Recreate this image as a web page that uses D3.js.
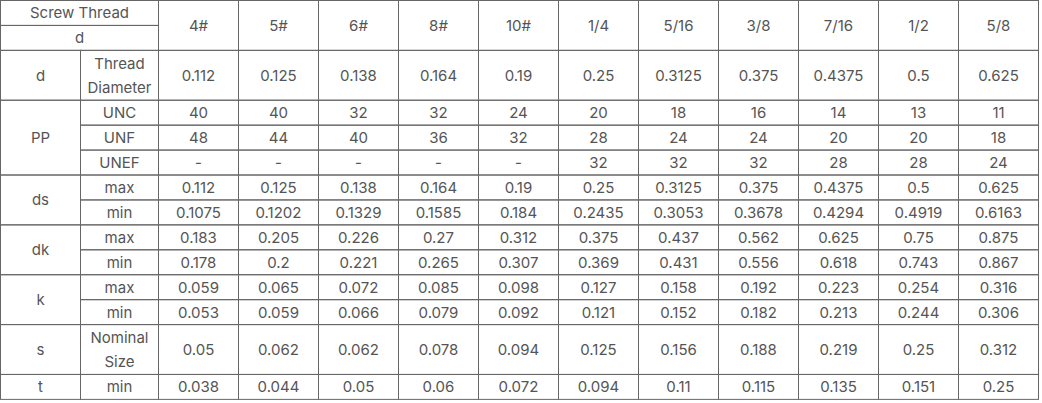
<!DOCTYPE html><html><head><meta charset="utf-8">
<script src="https://cdn.jsdelivr.net/npm/d3@7"></script>
<style>body{margin:0;background:#fff}text{font-family:Inter,"Noto Sans",sans-serif;font-size:15px;fill:#555}</style></head><body>
<svg id="c" width="1042" height="403"></svg>
<script>
const sizes=["4#","5#","6#","8#","10#","1/4","5/16","3/8","7/16","1/2","5/8"];
const threadDiameter=["0.112","0.125","0.138","0.164","0.19","0.25","0.3125","0.375","0.4375","0.5","0.625"];
const unc=["40","40","32","32","24","20","18","16","14","13","11"];
const unf=["48","44","40","36","32","28","24","24","20","20","18"];
const unef=["-","-","-","-","-","32","32","32","28","28","24"];
const dsMax=["0.112","0.125","0.138","0.164","0.19","0.25","0.3125","0.375","0.4375","0.5","0.625"];
const dsMin=["0.1075","0.1202","0.1329","0.1585","0.184","0.2435","0.3053","0.3678","0.4294","0.4919","0.6163"];
const dkMax=["0.183","0.205","0.226","0.27","0.312","0.375","0.437","0.562","0.625","0.75","0.875"];
const dkMin=["0.178","0.2","0.221","0.265","0.307","0.369","0.431","0.556","0.618","0.743","0.867"];
const kMax=["0.059","0.065","0.072","0.085","0.098","0.127","0.158","0.192","0.223","0.254","0.316"];
const kMin=["0.053","0.059","0.066","0.079","0.092","0.121","0.152","0.182","0.213","0.244","0.306"];
const sNom=["0.05","0.062","0.062","0.078","0.094","0.125","0.156","0.188","0.219","0.25","0.312"];
const tMin=["0.038","0.044","0.05","0.06","0.072","0.094","0.11","0.115","0.135","0.151","0.25"];

const groups=[
 {name:"d",rows:[{sub:["Thread","Diameter"],vals:threadDiameter,h:2}]},
 {name:"PP",rows:[{sub:["UNC"],vals:unc,h:1},{sub:["UNF"],vals:unf,h:1},{sub:["UNEF"],vals:unef,h:1}]},
 {name:"ds",rows:[{sub:["max"],vals:dsMax,h:1},{sub:["min"],vals:dsMin,h:1}]},
 {name:"dk",rows:[{sub:["max"],vals:dkMax,h:1},{sub:["min"],vals:dkMin,h:1}]},
 {name:"k",rows:[{sub:["max"],vals:kMax,h:1},{sub:["min"],vals:kMin,h:1}]},
 {name:"s",rows:[{sub:["Nominal","Size"],vals:sNom,h:2}]},
 {name:"t",rows:[{sub:["min"],vals:tMin,h:1}]}
];
const svg=d3.select("#c");
const g=svg.append("g").attr("transform","translate(0.5,0.5)");
const x=d3.scaleBand().domain(sizes).range([158,1038]);
const RH=24.93;
const stroke="#666";
function rect(x0,y0,w,h){g.append("rect").attr("x",x0).attr("y",y0).attr("width",w).attr("height",h).attr("fill","none").attr("stroke",stroke).attr("stroke-width",1);}
function txt(lines,cx,y0,h){
  const n=lines.length,lh=24;
  lines.forEach((l,i)=>g.append("text").attr("x",cx).attr("y",y0+h/2+(i-(n-1)/2)*lh).attr("text-anchor","middle").attr("dominant-baseline","central").text(l));
}
// header
rect(0,0,158,RH);txt(["Screw Thread"],79,0,RH);
rect(0,RH,158,RH);txt(["d"],79,RH,RH);
sizes.forEach(s=>{rect(x(s),0,x.bandwidth(),2*RH);txt([s],x(s)+x.bandwidth()/2,0,2*RH);});
let y=2*RH;
groups.forEach(gr=>{
  const gy=y;
  gr.rows.forEach(r=>{
    const h=r.h*RH;
    rect(80,y,78,h);txt(r.sub,119,y,h);
    r.vals.forEach((v,i)=>{const s=sizes[i];rect(x(s),y,x.bandwidth(),h);txt([v],x(s)+x.bandwidth()/2,y,h);});
    y+=h;
  });
  rect(0,gy,80,y-gy);txt([gr.name],40,gy,y-gy);
});
</script></body></html>
